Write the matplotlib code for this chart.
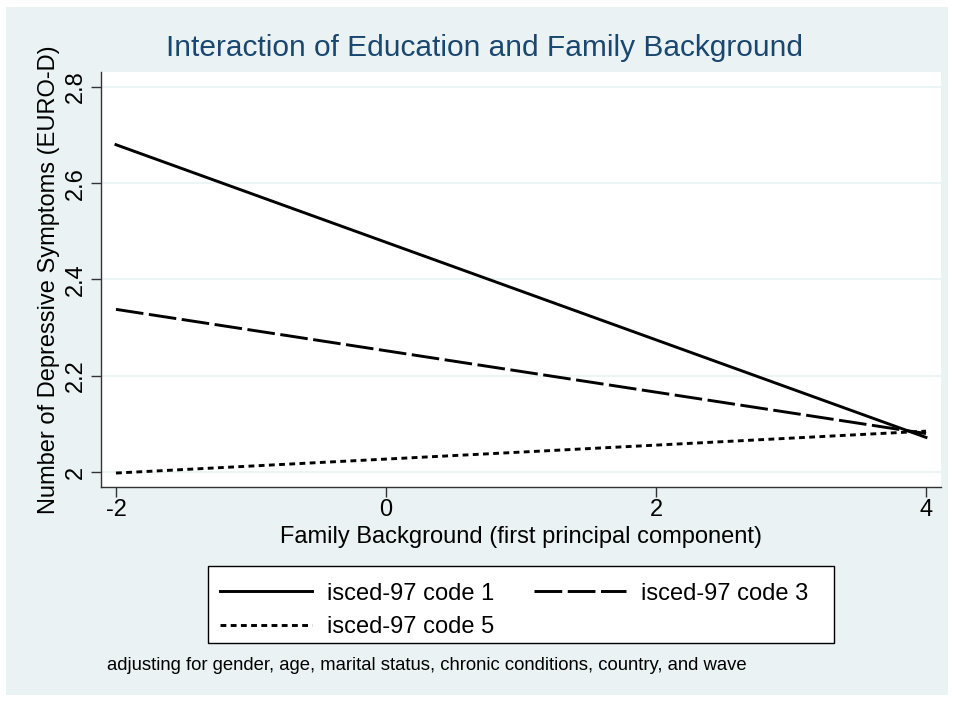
import matplotlib
matplotlib.use('Agg')
import matplotlib.pyplot as plt
from matplotlib.patches import Rectangle

# data (linear predictions at the ends of the range)
family_bg = [-2, 4]
code1 = [2.68, 2.072]
code3 = [2.338, 2.080]
code5 = [1.998, 2.085]
series_labels = ['isced-97 code 1', 'isced-97 code 3', 'isced-97 code 5']
x_ticks = [-2, 0, 2, 4]
y_ticks = [2.0, 2.2, 2.4, 2.6, 2.8]
y_ticklabels = ['2', '2.2', '2.4', '2.6', '2.8']

plt.rcParams['font.family'] = ['Liberation Sans', 'DejaVu Sans']
plt.rcParams['axes.unicode_minus'] = False

W, H = 954, 702
fig = plt.figure(figsize=(W / 100, H / 100), dpi=100, facecolor='white')
bg = '#eaf2f3'
fig.patches.append(Rectangle((6 / W, 7 / H), 942 / W, 688 / H,
                             transform=fig.transFigure, facecolor=bg,
                             edgecolor='none', zorder=-10))
# legend box drawn separately so the entries can sit off-centre like Stata
fig.patches.append(Rectangle((208 / W, 1 - 643 / H), 626 / W, 77 / H,
                             transform=fig.transFigure, facecolor='white',
                             edgecolor='black', lw=1, zorder=-5))

ax = fig.add_axes([101 / W, 1 - 487 / H, 840 / W, 415 / H])
ax.set_facecolor('white')

lw = 2.1
ax.plot(family_bg, code1, color='black', lw=lw, label=series_labels[0])
ax.plot(family_bg, code3, color='black', lw=lw, dashes=(9.5, 1.9),
        label=series_labels[1])
ax.plot(family_bg, code5, color='black', lw=lw, dashes=(2, 1.5),
        label=series_labels[2])

ax.set_xlim(-2.111, 4.111)
ax.set_ylim(1.969, 2.831)
ax.set_xticks(x_ticks)
ax.set_yticks(y_ticks)
ax.set_yticklabels(y_ticklabels, rotation=90, va='center')
ax.tick_params(axis='both', labelsize=17, length=7, width=1, color='#333333',
               direction='out')
ax.tick_params(axis='y', pad=3)
ax.tick_params(axis='x', pad=2)
ax.yaxis.grid(True, color=bg, lw=1.2)
ax.set_axisbelow(True)
for side in ['top', 'right']:
    ax.spines[side].set_visible(False)
for side in ['left', 'bottom']:
    ax.spines[side].set_color('#333333')
    ax.spines[side].set_linewidth(1)

ax.set_xlabel('Family Background (first principal component)', fontsize=17,
              labelpad=3)
ax.set_ylabel('Number of Depressive Symptoms (EURO-D)', fontsize=17,
              labelpad=4)

fig.text(485 / W, 1 - 48 / H, 'Interaction of Education and Family Background',
         fontsize=21.5, color='#1a476f', ha='center', va='center')

handles, labels = ax.get_legend_handles_labels()
order = [0, 2, 1]
leg = fig.legend([handles[i] for i in order], [labels[i] for i in order],
                 ncol=2, loc='center',
                 bbox_to_anchor=(208 / W, 1 - 649 / H, 612 / W, 77 / H),
                 mode='expand', fontsize=17, handlelength=3.9,
                 handletextpad=0.64, columnspacing=2.0, labelspacing=0.5,
                 borderpad=0.5, borderaxespad=0, frameon=False)

fig.text(107 / W, 1 - 665 / H,
         'adjusting for gender, age, marital status, chronic conditions, '
         'country, and wave', fontsize=13.3, ha='left', va='center')

fig.savefig('out.png', dpi=100, facecolor='white')
